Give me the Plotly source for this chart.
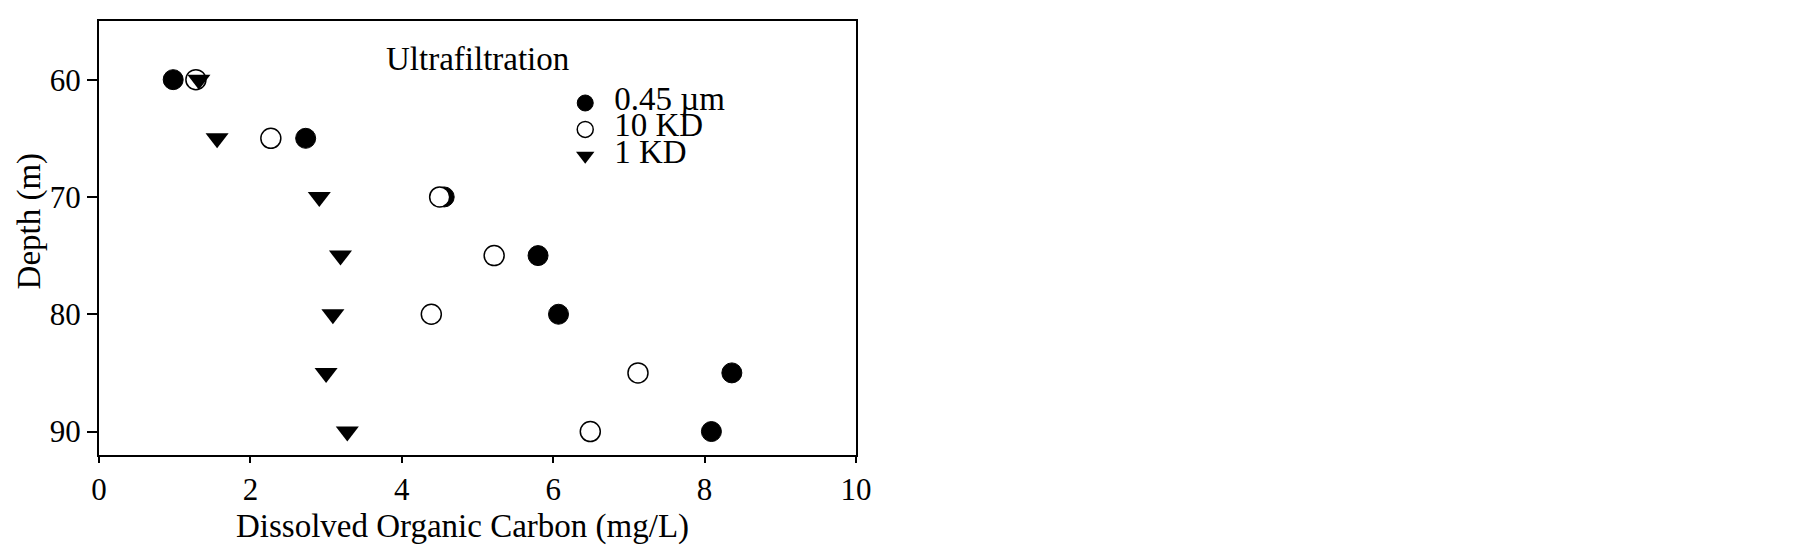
import plotly.graph_objects as go

# depths (m) and DOC values (mg/L)
depth = [60, 65, 70, 75, 80, 85, 90]
doc_045um = [0.98, 2.73, 4.56, 5.80, 6.07, 8.36, 8.09]
doc_10kd = [1.28, 2.27, 4.50, 5.22, 4.39, 7.12, 6.49]
doc_1kd = [1.32, 1.56, 2.91, 3.19, 3.09, 3.00, 3.28]

series_names = ["0.45 µm", "10 KD", "1 KD"]

FONT = "Liberation Serif"
BIG = 33


def leg(name):
    # legend font is kept small so the rows sit close, the label itself is big
    return f'<span style="font-size:{BIG}px">{name}</span>'


fig = go.Figure()

fig.add_trace(go.Scatter(
    x=doc_045um, y=depth, mode="markers", name=leg(series_names[0]),
    marker=dict(symbol="circle", size=20, color="black",
                line=dict(color="black", width=1)),
))
fig.add_trace(go.Scatter(
    x=doc_10kd, y=depth, mode="markers", name=leg(series_names[1]),
    marker=dict(symbol="circle", size=20, color="white",
                line=dict(color="black", width=1.5)),
))
fig.add_trace(go.Scatter(
    x=doc_1kd, y=depth, mode="markers", name=leg(series_names[2]),
    marker=dict(symbol="triangle-down", size=20, color="black",
                line=dict(color="black", width=0)),
))

axis_common = dict(
    showline=True, linecolor="black", linewidth=2, mirror=True,
    showgrid=False, zeroline=False, ticks="outside", tickcolor="black",
    tickwidth=1.5, tickfont=dict(family=FONT, size=31, color="black"),
)

fig.update_xaxes(range=[0, 10], tick0=0, dtick=2, ticklen=6, **axis_common)
fig.update_yaxes(range=[92, 55], tickvals=[60, 70, 80, 90], ticklen=10,
                 **axis_common)

fig.add_annotation(text="Ultrafiltration", x=5, xref="x", y=0.912,
                   yref="paper", showarrow=False, xanchor="center",
                   yanchor="middle",
                   font=dict(family=FONT, size=BIG, color="black"))
fig.add_annotation(text="Dissolved Organic Carbon (mg/L)", x=0.48,
                   xref="paper", y=-0.164, yref="paper", showarrow=False,
                   xanchor="center", yanchor="middle",
                   font=dict(family=FONT, size=BIG, color="black"))
fig.add_annotation(text="Depth (m)", x=-0.092, xref="paper", y=0.539,
                   yref="paper", showarrow=False, textangle=-90,
                   xanchor="center", yanchor="middle",
                   font=dict(family=FONT, size=BIG, color="black"))

# the page body adds 8px on the left and top, so the figure is trimmed to fit
fig.update_layout(
    width=1797, height=541,
    margin=dict(l=91, r=949, t=11, b=94),
    paper_bgcolor="white", plot_bgcolor="white",
    font=dict(family=FONT, color="black"),
    showlegend=True,
    legend=dict(x=0.604, y=0.853, xanchor="left", yanchor="top",
                bgcolor="rgba(0,0,0,0)", borderwidth=0, itemwidth=48,
                font=dict(family=FONT, size=18, color="black")),
)

fig.write_html("out.html")
